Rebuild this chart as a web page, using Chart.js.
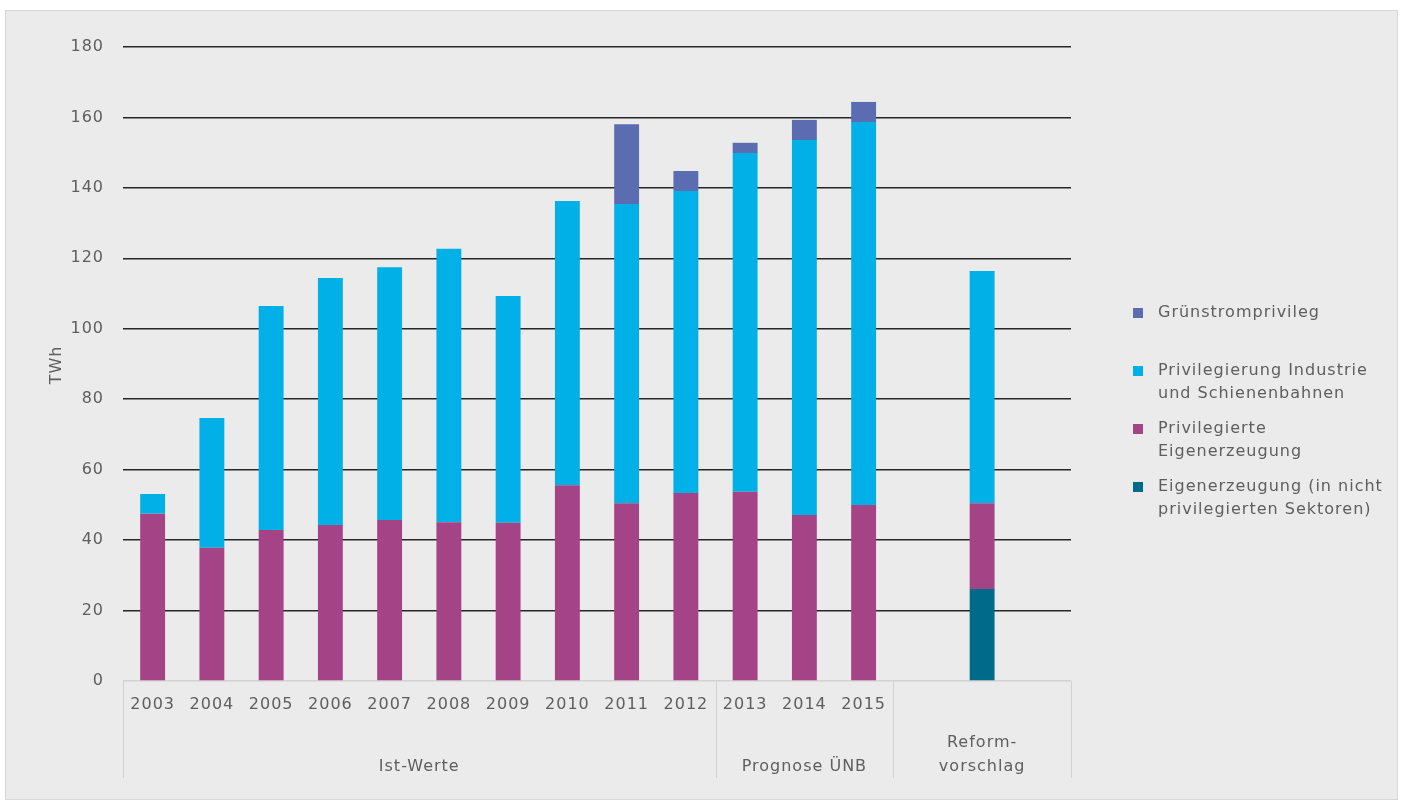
<!DOCTYPE html>
<html lang="de">
<head>
  <meta charset="UTF-8">
  <title>Privilegierter Letztverbrauch</title>
  <script src="https://cdn.jsdelivr.net/npm/chart.js"></script>
  <style>
    body { margin: 0; background: #fff; }
    #box { position: absolute; left: 5px; top: 10px; width: 1391px; height: 788px;
           background: #ebebeb; border: 1px solid #d8d8d8; }
    #myChart { position: absolute; left: 0; top: 0; }
  </style>
</head>
<body>
  <div id="box"></div>
  <canvas id="myChart" width="1404" height="809"></canvas>

  <script>
    // Kategorien (13 Jahre, danach Platz fuer den Reformvorschlag)
    const jahre = ['2003', '2004', '2005', '2006', '2007', '2008', '2009', '2010',
                   '2011', '2012', '2013', '2014', '2015', '', '', ''];

    // Werte in TWh
    const eigenNichtPriv = [null, null, null, null, null, null, null, null, null, null, null, null, null, null, 26.1, null];
    const privEigen      = [47.5, 37.8, 42.9, 44.3, 45.7, 45.1, 44.9, 55.6, 50.5, 53.4, 53.7, 47.1, 50.0, null, 24.4, null];
    const privIndustrie  = [5.6, 36.9, 63.6, 70.1, 71.8, 77.6, 64.4, 80.7, 84.9, 85.7, 96.2, 106.5, 108.7, null, 65.9, null];
    const gruenstrom     = [null, null, null, null, null, null, null, null, 22.7, 5.7, 2.9, 5.7, 5.7, null, null, null];

    // Gruppen unter der x-Achse: [erster Index, letzter Index, Text]
    const gruppen = [
      [0, 9, ['Ist-Werte']],
      [10, 12, ['Prognose ÜNB']],
      [13, 15, ['Reform-', 'vorschlag']]
    ];

    const yTicks = [0, 20, 40, 60, 80, 100, 120, 140, 160, 180];

    const schrift = "'DejaVu Sans', sans-serif";
    const grau = '#5e5e5e';

    // etwas gesperrte Schrift wie im Original
    const sperren = {
      id: 'sperren',
      beforeLayout(chart) { chart.ctx.letterSpacing = '1px'; },
      beforeDraw(chart) { chart.ctx.letterSpacing = '1px'; }
    };

    // Gruppenlinien, Gruppentexte, Achsentitel und Legende
    const extras = {
      id: 'extras',
      afterDraw(chart) {
        const ctx = chart.ctx;
        const x = chart.scales.x;
        const area = chart.chartArea;
        const slot = x.getPixelForValue(1) - x.getPixelForValue(0);
        ctx.save();
        ctx.strokeStyle = '#d2d2d2';
        ctx.lineWidth = 1;
        ctx.fillStyle = grau;
        ctx.font = '16px ' + schrift;
        ctx.textAlign = 'center';
        ctx.textBaseline = 'middle';
        const kanten = [x.getPixelForValue(0) - slot / 2];
        gruppen.forEach(g => kanten.push(x.getPixelForValue(g[1]) + slot / 2));
        kanten.forEach(k => {
          const kx = Math.round(k) + 0.5;
          ctx.beginPath();
          ctx.moveTo(kx, area.bottom);
          ctx.lineTo(kx, area.bottom + 97);
          ctx.stroke();
        });
        gruppen.forEach(g => {
          const mitte = (x.getPixelForValue(g[0]) + x.getPixelForValue(g[1])) / 2;
          const zeilen = g[2];
          zeilen.forEach((z, i) => {
            ctx.fillText(z, mitte, area.bottom + 86 - (zeilen.length - 1 - i) * 24);
          });
        });

        // Achsentitel
        ctx.save();
        ctx.translate(57, (area.top + area.bottom) / 2 + 1);
        ctx.rotate(-Math.PI / 2);
        ctx.fillText('TWh', 0, 0);
        ctx.restore();

        // Legende (oberstes Segment zuerst)
        ctx.textAlign = 'left';
        const ds = chart.data.datasets.slice().reverse();
        ds.forEach((d, i) => {
          const y0 = 313 + i * 58;
          ctx.fillStyle = d.backgroundColor;
          ctx.fillRect(1133, y0 - 5, 10, 10);
          ctx.fillStyle = grau;
          d.legendText.forEach((z, j) => ctx.fillText(z, 1158, y0 + j * 23));
        });
        ctx.restore();
      }
    };

    const ctx = document.getElementById('myChart').getContext('2d');
    const myChart = new Chart(ctx, {
      type: 'bar',
      data: {
        labels: jahre,
        datasets: [
          { label: 'Eigenerzeugung (in nicht privilegierten Sektoren)',
            legendText: ['Eigenerzeugung (in nicht', 'privilegierten Sektoren)'],
            data: eigenNichtPriv, backgroundColor: '#006a8a' },
          { label: 'Privilegierte Eigenerzeugung',
            legendText: ['Privilegierte', 'Eigenerzeugung'],
            data: privEigen, backgroundColor: '#a44385' },
          { label: 'Privilegierung Industrie und Schienenbahnen',
            legendText: ['Privilegierung Industrie', 'und Schienenbahnen'],
            data: privIndustrie, backgroundColor: '#00b0e6' },
          { label: 'Grünstromprivileg',
            legendText: ['Grünstromprivileg'],
            data: gruenstrom, backgroundColor: '#5b6db0' }
        ]
      },
      options: {
        responsive: false,
        animation: false,
        devicePixelRatio: 1,
        layout: { padding: { left: 0, right: 333, top: 47, bottom: 0 } },
        datasets: { bar: { barPercentage: 0.42, categoryPercentage: 1 } },
        plugins: { legend: { display: false }, tooltip: { enabled: false } },
        scales: {
          x: {
            stacked: true,
            grid: { display: false },
            border: { display: false },
            ticks: { color: grau, font: { family: schrift, size: 16 }, padding: 6, maxRotation: 0, autoSkip: false },
            afterFit(scale) { scale.height = 128; }
          },
          y: {
            stacked: true,
            min: 0,
            max: 180,
            afterBuildTicks(scale) { scale.ticks = yTicks.map(v => ({ value: v })); },
            grid: {
              drawTicks: false,
              lineWidth: 1.5,
              color: c => (c.tick && c.tick.value === 0 ? '#d2d2d2' : '#262626')
            },
            border: { display: false },
            ticks: { color: grau, font: { family: schrift, size: 16 }, padding: 19 },
            afterFit(scale) { scale.width = 123; }
          }
        }
      },
      plugins: [sperren, extras]
    });
  </script>
</body>
</html>
